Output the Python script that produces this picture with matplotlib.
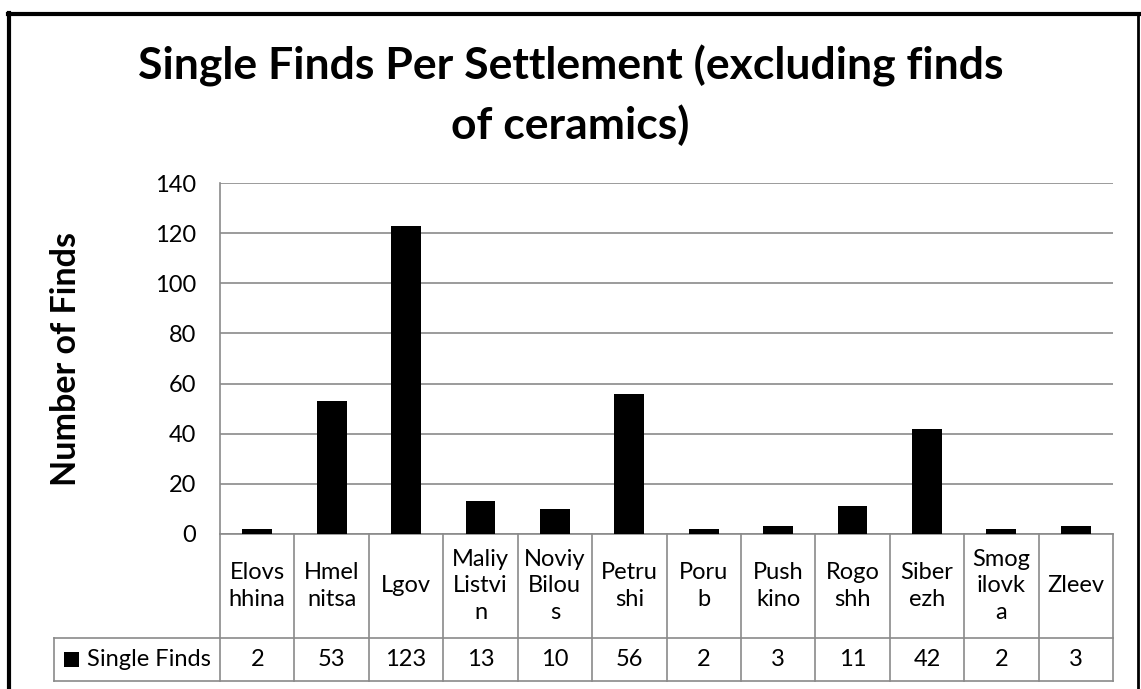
import matplotlib
matplotlib.use("Agg")
import matplotlib.pyplot as plt
from matplotlib.lines import Line2D
from matplotlib.patches import Rectangle
import matplotlib.transforms as mtransforms
import numpy as np

plt.rcParams['font.family'] = ['Lato', 'DejaVu Sans']

categories = ["Elovs\nhhina", "Hmel\nnitsa", "Lgov", "Maliy\nListvi\nn", "Noviy\nBilou\ns",
              "Petru\nshi", "Poru\nb", "Push\nkino", "Rogo\nshh", "Siber\nezh", "Smog\nilovk\na", "Zleev"]
series_name = "Single Finds"
values = [2, 53, 123, 13, 10, 56, 2, 3, 11, 42, 2, 3]
yticks = [0, 20, 40, 60, 80, 100, 120, 140]

W, H = 1141, 689
fig = plt.figure(figsize=(W / 100, H / 100), dpi=100)
fig.patch.set_facecolor('white')

FS = 17

# plot area in pixels
px_left, px_right, px_top, px_bottom = 220, 1113, 183, 534
ax = fig.add_axes([px_left / W, 1 - px_bottom / H, (px_right - px_left) / W, (px_bottom - px_top) / H])
x = np.arange(len(values))
ax.bar(x, values, width=0.4, color='black', zorder=3)
ax.set_xlim(-0.5, len(values) - 0.5)
ax.set_ylim(0, 140)
ax.set_yticks(yticks)
ax.set_yticklabels([str(t) for t in yticks], fontsize=FS)
ax.tick_params(axis='y', length=0, pad=17)
ax.set_xticks([])
grid_c = '#8a8a8a'
for t in yticks:
    ax.axhline(t, color=grid_c, lw=1.2, zorder=1)
for s in ['top', 'right', 'bottom']:
    ax.spines[s].set_visible(False)
ax.spines['left'].set_color(grid_c)
ax.spines['left'].set_linewidth(1.2)

ax.set_ylabel("Number of Finds", fontsize=24.5, fontweight='bold')
ax.yaxis.set_label_coords((82 - px_left) / (px_right - px_left), 0.5)

# data table below axes
tr = mtransforms.blended_transform_factory(ax.transData, ax.transAxes)
ax_h = px_bottom - px_top
r1 = -(638 - px_bottom) / ax_h
r2 = -(681 - px_bottom) / ax_h
leg_left = (54 - px_left) / (px_right - px_left) * len(values) - 0.5
lkw = dict(color=grid_c, lw=1.2, transform=tr, clip_on=False)
n = len(values)
ax.plot([-0.5, n - 0.5], [0, 0], **lkw)
ax.plot([leg_left, n - 0.5], [r1, r1], **lkw)
ax.plot([leg_left, n - 0.5], [r2, r2], **lkw)
for i in range(n + 1):
    ax.plot([i - 0.5, i - 0.5], [0, r2], **lkw)
ax.plot([leg_left, leg_left], [r1, r2], **lkw)

for i, (c, v) in enumerate(zip(categories, values)):
    ax.text(i, r1 / 2, c, ha='center', va='center', fontsize=FS, transform=tr,
            linespacing=1.35, clip_on=False)
    ax.text(i, (r1 + r2) / 2, str(v), ha='center', va='center', fontsize=FS, transform=tr,
            clip_on=False)

# legend cell
fig.text(211 / W, 1 - 660 / H, series_name, ha='right', va='center', fontsize=FS)
fig.patches.append(Rectangle((64 / W, 1 - 667 / H), 15 / W, 15 / H, transform=fig.transFigure,
                             facecolor='black', edgecolor='none'))

# title
fig.text(0.5, 1 - 95 / H, "Single Finds Per Settlement (excluding finds\nof ceramics)",
         ha='center', va='center', fontsize=32, fontweight='bold', linespacing=1.5)

# outer border
fig.add_artist(Line2D([9 / W, 9 / W], [0, 1 - 13 / H], transform=fig.transFigure, color='black', lw=3))
fig.add_artist(Line2D([1138 / W, 1138 / W], [0, 1 - 13 / H], transform=fig.transFigure, color='black', lw=2))
fig.add_artist(Line2D([8 / W, 1139 / W], [1 - 14 / H, 1 - 14 / H], transform=fig.transFigure, color='black', lw=3))

fig.savefig("out.png", dpi=100)
